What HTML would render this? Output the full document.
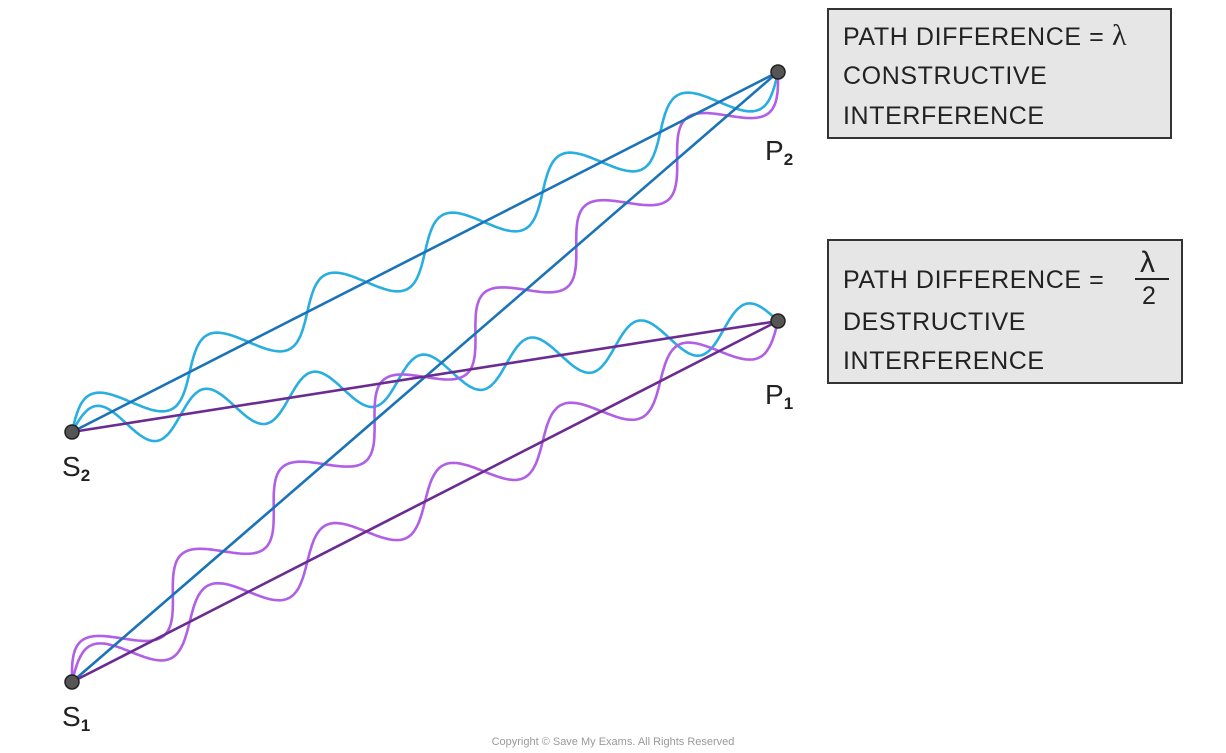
<!DOCTYPE html>
<html><head><meta charset="utf-8">
<style>
html,body{margin:0;padding:0;background:#fff;}
svg{display:block;}
text{font-family:"Liberation Sans","DejaVu Sans",sans-serif;}
</style></head>
<body>
<svg id="s" width="1226" height="753" viewBox="0 0 1226 753" xmlns="http://www.w3.org/2000/svg">
<g id="waves" fill="none" stroke-width="2.6" stroke-linecap="round"></g>
<line x1="72" y1="432" x2="778" y2="72" stroke="#1a73b8" stroke-width="2.6"/>
<line x1="72" y1="682" x2="778" y2="72" stroke="#1a73b8" stroke-width="2.6"/>
<line x1="72" y1="432" x2="778" y2="321" stroke="#6a2c91" stroke-width="2.6"/>
<line x1="72" y1="682" x2="778" y2="321" stroke="#6a2c91" stroke-width="2.6"/>
<circle cx="72" cy="432" r="7" fill="#555" stroke="#222" stroke-width="1.5"/>
<circle cx="72" cy="682" r="7" fill="#555" stroke="#222" stroke-width="1.5"/>
<circle cx="778" cy="72" r="7" fill="#555" stroke="#222" stroke-width="1.5"/>
<circle cx="778" cy="321" r="7" fill="#555" stroke="#222" stroke-width="1.5"/>
<text x="62" y="476" font-size="28" fill="#222">S<tspan font-size="17" font-weight="bold" dy="5">2</tspan></text>
<text x="62" y="726" font-size="28" fill="#222">S<tspan font-size="17" font-weight="bold" dy="5">1</tspan></text>
<text x="765" y="160" font-size="28" fill="#222">P<tspan font-size="17" font-weight="bold" dy="5">2</tspan></text>
<text x="765" y="404" font-size="28" fill="#222">P<tspan font-size="17" font-weight="bold" dy="5">1</tspan></text>
<rect x="828" y="9" width="343" height="129" fill="#e6e6e6" stroke="#333" stroke-width="2"/>
<g font-size="25" fill="#222" letter-spacing="0.6">
<text x="843" y="45">PATH DIFFERENCE = <tspan font-family="Liberation Serif,serif" font-size="30">λ</tspan></text>
<text x="843" y="84">CONSTRUCTIVE</text>
<text x="843" y="124">INTERFERENCE</text>
</g>
<rect x="828" y="240" width="354" height="143" fill="#e6e6e6" stroke="#333" stroke-width="2"/>
<g font-size="25" fill="#222" letter-spacing="0.6">
<text x="843" y="288">PATH DIFFERENCE =</text>
<text x="1140" y="272" font-family="Liberation Serif,serif" font-size="30">λ</text>
<line x1="1135" y1="279" x2="1169" y2="279" stroke="#222" stroke-width="2"/>
<text x="1142" y="304">2</text>
<text x="843" y="330">DESTRUCTIVE</text>
<text x="843" y="369">INTERFERENCE</text>
</g>
<text x="613" y="745" font-size="11" fill="#999" text-anchor="middle">Copyright © Save My Exams. All Rights Reserved</text>
</svg>
<script>
(function(){
var g=document.getElementById('waves');
function wave(x0,y0,x1,y1,halves,A,col){
  var d='',N=500,dx=x1-x0,dy=y1-y0,L=Math.hypot(dx,dy);
  var nx=dy/L, ny=-dx/L;
  for(var i=0;i<=N;i++){
    var t=i/N, s=A*Math.sin(Math.PI*halves*t);
    var x=x0+dx*t+nx*s, y=y0+dy*t+ny*s;
    d+=(i?'L':'M')+x.toFixed(1)+' '+y.toFixed(1);
  }
  var p=document.createElementNS('http://www.w3.org/2000/svg','path');
  p.setAttribute('d',d);p.setAttribute('stroke',col);g.appendChild(p);
}
wave(72,432,778,72,12,25,'#29aee0');
wave(72,432,778,321,13,22,'#29aee0');
wave(72,682,778,72,14,25,'#b05fe6');
wave(72,682,778,321,12,24,'#b05fe6');
})();
</script>
</body></html>
